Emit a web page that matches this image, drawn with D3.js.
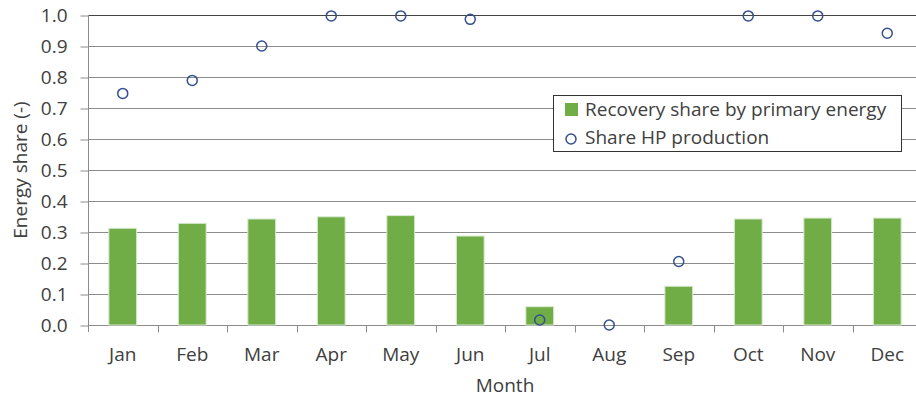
<!DOCTYPE html>
<html>
<head>
<meta charset="utf-8">
<script src="https://cdn.jsdelivr.net/npm/d3@7"></script>
<style>
  html, body { margin: 0; padding: 0; background: #fff; overflow: hidden; }
  svg { display: block; font-family: "Open Sans", "Noto Sans", sans-serif; }
</style>
</head>
<body>
<svg id="chart" width="916" height="398"></svg>
<script>
// Monthly data
const months = ["Jan", "Feb", "Mar", "Apr", "May", "Jun", "Jul", "Aug", "Sep", "Oct", "Nov", "Dec"];
const recoveryShare = [0.312, 0.328, 0.342, 0.349, 0.353, 0.287, 0.059, 0.0, 0.125, 0.342, 0.345, 0.345];
const hpShare = [0.747, 0.789, 0.900, 0.997, 0.997, 0.986, 0.016, 0.0, 0.205, 0.997, 0.997, 0.941];
const yTicks = [0.0, 0.1, 0.2, 0.3, 0.4, 0.5, 0.6, 0.7, 0.8, 0.9, 1.0];
const seriesNames = ["Recovery share by primary energy", "Share HP production"];

const svg = d3.select("#chart");
// The plot area runs slightly past the right edge of the canvas
const x0 = 88, x1 = 922;
const y0 = 325, y1 = 15;

const textColor = "#404040";
const gridColor = "#8c8c8c";
const barColor = "#70ad47";
const markerColor = "#34508f";
const fontSize = 19;

const x = d3.scaleBand().domain(months).range([x0, x1]).paddingInner(0.6).paddingOuter(0.3);
const xBand = d3.scaleBand().domain(months).range([x0, x1]);
const y = d3.scaleLinear().domain([0, 1]).range([y0, y1]);

// Horizontal gridlines
svg.append("g")
  .selectAll("line")
  .data(yTicks.filter(d => d > 0))
  .join("line")
  .attr("x1", x0).attr("x2", x1)
  .attr("y1", d => Math.round(y(d)) + 0.5).attr("y2", d => Math.round(y(d)) + 0.5)
  .attr("stroke", d => d === 1 ? "#444" : gridColor)
  .attr("stroke-width", 1);

// Y axis
const yAxis = d3.axisLeft(y).tickValues(yTicks).tickFormat(d3.format(".1f")).tickSize(8).tickPadding(13);
const gy = svg.append("g").attr("transform", `translate(${x0 + 0.5},0)`).call(yAxis);
gy.select(".domain").attr("stroke", gridColor).attr("d", `M0,${y1}V${y0 + 7}`);
gy.selectAll(".tick line").attr("stroke", gridColor).attr("transform", "translate(0,0.5)");
gy.selectAll(".tick text").attr("fill", textColor).style("font-size", fontSize + "px")
  .style("font-family", "\"Open Sans\", sans-serif");

// X axis with tick marks at category boundaries
const gx = svg.append("g").attr("transform", `translate(0,${Math.round(y0) + 0.5})`);
gx.append("line").attr("x1", x0).attr("x2", x1).attr("stroke", gridColor);
gx.selectAll(".bound")
  .data(months)
  .join("line")
  .attr("class", "bound")
  .attr("x1", d => Math.round(xBand(d) + xBand.bandwidth()) + 0.5)
  .attr("x2", d => Math.round(xBand(d) + xBand.bandwidth()) + 0.5)
  .attr("y1", 0).attr("y2", 7)
  .attr("stroke", gridColor);
gx.selectAll(".lbl")
  .data(months)
  .join("text")
  .attr("class", "lbl")
  .attr("x", d => xBand(d) + xBand.bandwidth() / 2)
  .attr("y", 35)
  .attr("text-anchor", "middle")
  .attr("fill", textColor)
  .style("font-size", fontSize + "px")
  .text(d => d);

// Bars
svg.append("g")
  .selectAll("rect")
  .data(months.map((m, i) => ({ m, v: recoveryShare[i] })).filter(d => d.v > 0))
  .join("rect")
  .attr("x", d => x(d.m))
  .attr("width", x.bandwidth())
  .attr("y", d => y(d.v))
  .attr("height", d => y(0) - y(d.v))
  .attr("fill", barColor)
  .attr("stroke", "#d9ead0")
  .attr("stroke-width", 1);

// Markers
svg.append("g")
  .selectAll("circle")
  .data(months.map((m, i) => ({ m, v: hpShare[i] })))
  .join("circle")
  .attr("cx", d => xBand(d.m) + xBand.bandwidth() / 2)
  .attr("cy", d => y(d.v))
  .attr("r", 5)
  .attr("fill", "none")
  .attr("stroke", markerColor)
  .attr("stroke-width", 1.5);

// Axis titles
svg.append("text")
  .attr("x", (x0 + x1) / 2)
  .attr("y", 392)
  .attr("text-anchor", "middle")
  .attr("fill", textColor)
  .style("font-size", fontSize + "px")
  .text("Month");

svg.append("text")
  .attr("transform", `translate(27,${(y0 + y1) / 2}) rotate(-90)`)
  .attr("text-anchor", "middle")
  .attr("fill", textColor)
  .style("font-size", fontSize + "px")
  .text("Energy share (-)");

// Legend
const lg = svg.append("g");
lg.append("rect")
  .attr("x", 553.5).attr("y", 95.5).attr("width", 348).attr("height", 56)
  .attr("fill", "#fff").attr("stroke", "#333").attr("stroke-width", 1);
lg.append("rect")
  .attr("x", 565).attr("y", 103).attr("width", 13).attr("height", 13)
  .attr("fill", barColor);
lg.append("text")
  .attr("x", 585).attr("y", 116)
  .attr("fill", textColor)
  .style("font-size", fontSize + "px")
  .text(seriesNames[0]);
lg.append("circle")
  .attr("cx", 571).attr("cy", 139).attr("r", 5)
  .attr("fill", "none").attr("stroke", markerColor).attr("stroke-width", 1.5);
lg.append("text")
  .attr("x", 585).attr("y", 144)
  .attr("fill", textColor)
  .style("font-size", fontSize + "px")
  .text(seriesNames[1]);
</script>
</body>
</html>
